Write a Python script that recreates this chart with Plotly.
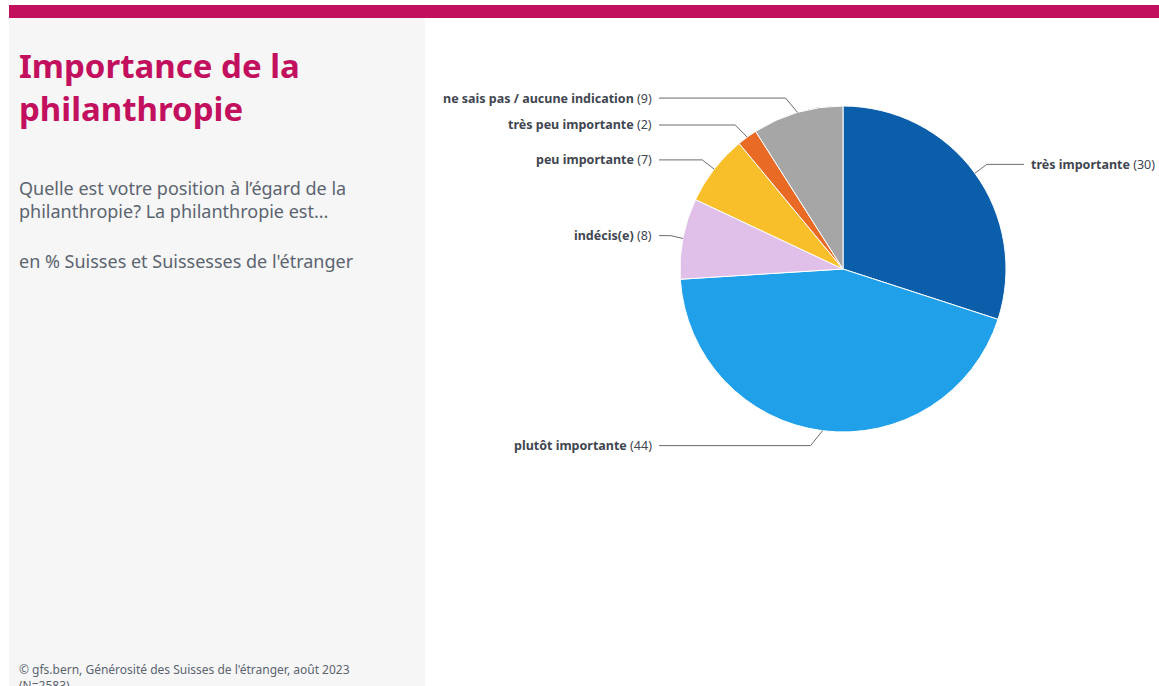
import numpy as np
import plotly.graph_objects as go

# data
categories = ["très importante", "plutôt importante", "indécis(e)",
              "peu importante", "très peu importante",
              "ne sais pas / aucune indication"]
values = [30, 44, 8, 7, 2, 9]
colors = ["#0b5ea9", "#1fa0e9", "#e0bfe8", "#f9bf2b", "#e86a24", "#a6a6a6"]

title = "Importance de la<br>philanthropie"
subtitle = "Quelle est votre position à l’égard de la<br>philanthropie? La philanthropie est..."
unit = "en % Suisses et Suissesses de l'étranger"
source = "© gfs.bern, Générosité des Suisses de l'étranger, août 2023<br>(N=2583)"

W, H = 1159, 686
FONT = "Noto Sans"
MAGENTA = "#c2105e"
TXT = "#5b6470"


def px(x):
    return x / W


def py(y):
    return 1 - y / H


# pie geometry (pixels)
cx, cy, r = 843, 269, 163
r_lab = 178

fig = go.Figure()
fig.add_trace(go.Pie(
    labels=categories, values=values, sort=False, direction="clockwise",
    rotation=0, textinfo="none", hoverinfo="label+value",
    marker=dict(colors=colors, line=dict(color="white", width=1)),
    domain=dict(x=[px(cx - r), px(cx + r)], y=[py(cy + r), py(cy - r)]),
    showlegend=False,
))

shapes = [
    dict(type="rect", xref="paper", yref="paper", x0=px(9), x1=px(425),
         y0=0, y1=py(18), fillcolor="#f6f6f6", line_width=0, layer="below"),
    dict(type="rect", xref="paper", yref="paper", x0=px(9), x1=1,
         y0=py(18), y1=py(5), fillcolor=MAGENTA, line_width=0, layer="below"),
]
annotations = []

# labels with leader lines, placed from slice mid angles
cum = np.cumsum([0] + values[:-1])
total = sum(values)
for cat, v, c0 in zip(categories, values, cum):
    theta = np.deg2rad((c0 + v / 2) / total * 360)
    ex = cx + r * np.sin(theta)
    ey = cy - r * np.cos(theta)
    ly = cy - r_lab * np.cos(theta)
    side = 1 if np.sin(theta) >= 0 else -1
    elx = ex + side * 12
    lx = 1024 if side > 0 else 659
    tx = 1029 if side > 0 else 654
    path = (f"M {px(ex)} {py(ey)} L {px(elx)} {py(ly)} L {px(lx)} {py(ly)}")
    shapes.append(dict(type="path", xref="paper", yref="paper", path=path,
                       line=dict(color="#6b6b6b", width=1)))
    annotations.append(dict(
        xref="paper", yref="paper", x=px(tx), y=py(ly),
        xanchor="left" if side > 0 else "right", yanchor="middle",
        text=f"<b>{cat}</b> ({v})", showarrow=False,
        font=dict(family=FONT, size=12.5, color="#3f4650")))

annotations += [
    dict(xref="paper", yref="paper", x=px(17), y=py(41), xanchor="left",
         yanchor="top", text=f"<b>{title}</b>", showarrow=False, align="left",
         font=dict(family=FONT, size=33, color=MAGENTA)),
    dict(xref="paper", yref="paper", x=px(17), y=py(174), xanchor="left",
         yanchor="top", text=subtitle, showarrow=False, align="left",
         font=dict(family=FONT, size=18, color=TXT)),
    dict(xref="paper", yref="paper", x=px(17), y=py(247), xanchor="left",
         yanchor="top", text=unit, showarrow=False, align="left",
         font=dict(family=FONT, size=18, color=TXT)),
    dict(xref="paper", yref="paper", x=px(17), y=py(659), xanchor="left",
         yanchor="top", text=source, showarrow=False, align="left",
         font=dict(family=FONT, size=12, color=TXT)),
]

fig.update_layout(
    width=W, height=H, margin=dict(l=0, r=0, t=0, b=0),
    paper_bgcolor="white", plot_bgcolor="white",
    shapes=shapes, annotations=annotations,
)

fig.write_html("out.html", config={"displayModeBar": False},
               post_script="document.body.style.margin='0';")
